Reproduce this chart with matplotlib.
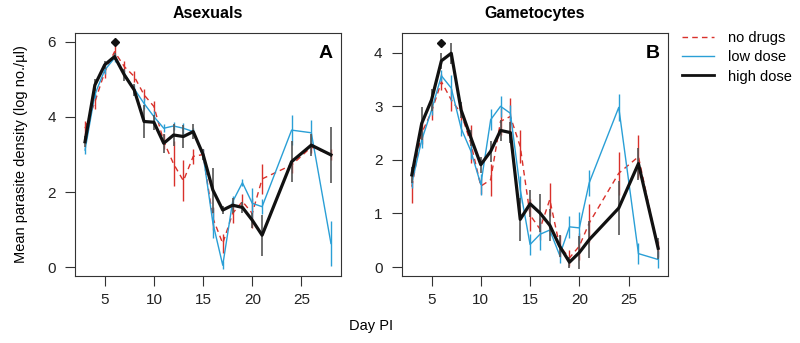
# mean parasite density by day post infection, asexuals and gametocytes

import numpy as np
import matplotlib
matplotlib.use('Agg')
import matplotlib.pyplot as plt

plt.rcParams['font.family'] = ['Liberation Sans', 'DejaVu Sans']

days = [3, 4, 5, 6, 7, 8, 9, 10, 11, 12, 13, 14, 15, 16, 17, 18, 19, 20, 21, 24, 26, 28]

# asexuals (panel A)
asex_none = [3.7, 4.4, 5.2, 5.74, 5.34, 5.08, 4.59, 4.28, 3.35, 2.75, 2.3, 2.95,
             3.0, 1.3, 0.63, 1.43, 1.75, 1.43, 2.35, 2.72, 3.2, 3.0]
asex_low = [3.12, 4.6, 5.25, 5.57, 5.15, 4.75, 4.36, 4.01, 3.70, 3.76, 3.70, 3.61,
            3.0, 1.17, 0.05, 1.74, 2.25, 1.70, 1.61, 3.65, 3.58, 0.63]
asex_high = [3.34, 4.85, 5.39, 5.61, 5.12, 4.72, 3.88, 3.86, 3.30, 3.52, 3.48, 3.61,
             3.0, 2.05, 1.52, 1.65, 1.59, 1.25, 0.85, 2.81, 3.25, 2.99]
asex_none_se = [0.2, 0.2, 0.15, 0.15, 0.15, 0.15, 0.15, 0.15, 0.2, 0.6, 0.55, 0.2,
                0.15, 0.3, 0.25, 0.25, 0.2, 0.4, 0.4, 0.2, 0.15, 0.15]
asex_low_se = [0.1, 0.1, 0.1, 0.1, 0.1, 0.1, 0.15, 0.15, 0.1, 0.1, 0.15, 0.1,
               0.15, 0.4, 0.1, 0.15, 0.1, 0.4, 0.2, 0.4, 0.35, 0.6]
asex_high_se = [0.15, 0.15, 0.1, 0.1, 0.15, 0.15, 0.45, 0.2, 0.25, 0.3, 0.3, 0.2,
                0.15, 0.6, 0.1, 0.2, 0.15, 0.2, 0.55, 0.55, 0.3, 0.75]

# gametocytes (panel B)
gam_none = [1.5, 2.5, 2.9, 3.46, 3.12, 2.87, 2.3, 1.51, 1.63, 2.72, 2.81, 2.25,
            0.97, 0.71, 1.26, 0.39, 0.17, 0.39, 0.82, 1.75, 2.06, 0.33]
gam_low = [1.57, 2.37, 2.93, 3.57, 3.34, 2.59, 2.16, 1.54, 2.75, 3.0, 2.87, 1.45,
           0.42, 0.61, 0.69, 0.22, 0.75, 0.73, 1.57, 2.98, 0.25, 0.14]
gam_high = [1.72, 2.68, 3.12, 3.85, 3.99, 2.93, 2.41, 1.91, 2.16, 2.55, 2.51, 0.89,
            1.18, 1.01, 0.78, 0.39, 0.09, 0.27, 0.51, 1.10, 1.93, 0.35]
gam_none_se = [0.3, 0.2, 0.15, 0.15, 0.2, 0.15, 0.35, 0.15, 0.3, 0.25, 0.35, 0.3,
               0.3, 0.2, 0.3, 0.2, 0.15, 0.25, 0.35, 0.4, 0.4, 0.15]
gam_low_se = [0.1, 0.15, 0.1, 0.1, 0.25, 0.15, 0.15, 0.2, 0.2, 0.2, 0.15, 0.25,
              0.2, 0.3, 0.1, 0.15, 0.2, 0.3, 0.25, 0.25, 0.2, 0.15]
gam_high_se = [0.15, 0.3, 0.2, 0.15, 0.2, 0.15, 0.15, 0.15, 0.2, 0.2, 0.2, 0.4,
               0.25, 0.35, 0.3, 0.2, 0.1, 0.3, 0.35, 0.5, 0.3, 0.2]

# peak markers (diamond above day 6)
peak_day = 6
peak_asex = 6.0
peak_gam = 4.19

red = '#d9312b'
blue = '#2a9fd6'

fig = plt.figure(figsize=(8, 3.43), dpi=100)
axA = fig.add_axes([0.094, 0.195, 0.332, 0.709])
axB = fig.add_axes([0.5025, 0.195, 0.3325, 0.709])


def draw(ax, none, low, high, none_se, low_se, high_se):
    ax.errorbar(days, none, yerr=none_se, color=red, lw=1, ls=(0, (4, 3)),
                elinewidth=1, capsize=0, zorder=2)
    ax.errorbar(days, low, yerr=low_se, color=blue, lw=1,
                elinewidth=1, capsize=0, zorder=3)
    ax.errorbar(days, high, yerr=high_se, color='#111111', lw=2.3,
                ecolor='#555555', elinewidth=1.2, capsize=0, zorder=4)
    ax.set_xlim(2, 29)
    ax.set_xticks([5, 10, 15, 20, 25])
    ax.tick_params(direction='out', length=7, width=0.8, labelsize=11,
                   colors='#333333', labelcolor='#222222')
    ax.tick_params(axis='y', pad=7)
    ax.tick_params(axis='x', pad=5)
    for s in ax.spines.values():
        s.set_linewidth(0.8)
        s.set_color('#333333')


draw(axA, asex_none, asex_low, asex_high, asex_none_se, asex_low_se, asex_high_se)
axA.set_ylim(-0.24, 6.24)
axA.set_yticks([0, 2, 4, 6])
axA.plot([peak_day], [peak_asex], marker='D', color='#111111', ms=4)
axA.set_title('Asexuals', fontsize=11.5, fontweight='bold', pad=11)
axA.text(0.97, 0.95, 'A', transform=axA.transAxes, ha='right', va='top',
         fontsize=14, fontweight='bold')
axA.set_ylabel('Mean parasite density (log no./\u00b5l)', fontsize=10.5, labelpad=14)

draw(axB, gam_none, gam_low, gam_high, gam_none_se, gam_low_se, gam_high_se)
axB.set_ylim(-0.17, 4.37)
axB.set_yticks([0, 1, 2, 3, 4])
axB.plot([peak_day], [peak_gam], marker='D', color='#111111', ms=4)
axB.set_title('Gametocytes', fontsize=11.5, fontweight='bold', pad=11)
axB.text(0.97, 0.95, 'B', transform=axB.transAxes, ha='right', va='top',
         fontsize=14, fontweight='bold')

fig.text(0.464, 0.03, 'Day PI', ha='center', va='bottom', fontsize=10.5)

# legend outside on the right
hA = [plt.Line2D([], [], color=red, lw=1, ls=(0, (4, 3))),
      plt.Line2D([], [], color=blue, lw=1),
      plt.Line2D([], [], color='#111111', lw=2)]
fig.legend(hA, ['no drugs', 'low dose', 'high dose'], loc='upper left',
           bbox_to_anchor=(0.843, 0.93), frameon=False, fontsize=10.5,
           handlelength=2.2, handletextpad=1.0, labelspacing=0.35, borderpad=0)

fig.savefig('out.png', dpi=100)
